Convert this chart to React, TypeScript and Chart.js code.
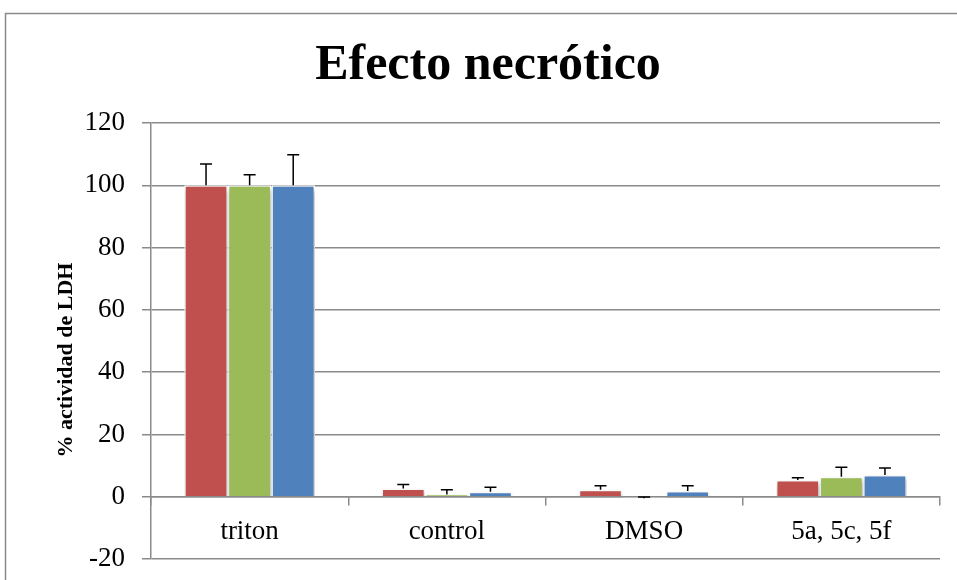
import React, { useEffect, useRef } from "react";
import { Chart, registerables } from "chart.js";

Chart.register(...registerables);

const titleText = "Efecto necrótico";
const yTitleText = "% actividad de LDH";
const categories = ["triton", "control", "DMSO", "5a, 5c, 5f"];
const seriesA = [100, 2.6, 2.2, 5.4];
const seriesB = [100, 0.7, -0.5, 6.4];
const seriesC = [100, 1.6, 1.8, 7.0];
const errA = [6.8, 1.3, 1.3, 0.7];
const errB = [3.4, 1.5, 0.4, 3.1];
const errC = [9.8, 1.4, 1.7, 2.2];
const yTicks = [-20, 0, 20, 40, 60, 80, 100, 120];

const colors = ["#C0504D", "#9BBB59", "#4F81BD"];
const errs = [errA, errB, errC];

const frame = {
  id: "frame",
  beforeDraw(chart: any) {
    const ctx = chart.ctx;
    ctx.save();
    ctx.fillStyle = "#ffffff";
    ctx.fillRect(0, 0, chart.width, chart.height);
    ctx.strokeStyle = "#8a8a8a";
    ctx.lineWidth = 1.5;
    ctx.beginPath();
    ctx.moveTo(5.5, chart.height + 5);
    ctx.lineTo(5.5, 13.5);
    ctx.lineTo(chart.width + 5, 13.5);
    ctx.stroke();
    ctx.restore();
  },
  afterDraw(chart: any) {
    const ctx = chart.ctx;
    ctx.save();
    ctx.fillStyle = "#000000";
    ctx.font = "bold 50px 'Liberation Serif'";
    ctx.textAlign = "center";
    ctx.textBaseline = "alphabetic";
    ctx.fillText(titleText, 488, 79);
    ctx.translate(72, 360);
    ctx.rotate(-Math.PI / 2);
    ctx.font = "bold 22px 'Liberation Serif'";
    ctx.fillText(yTitleText, 0, 0);
    ctx.restore();
  },
};

const shadow = {
  id: "shadow",
  beforeDatasetsDraw(chart: any) {
    const ctx = chart.ctx;
    ctx.save();
    ctx.shadowColor = "rgba(0,0,0,0.35)";
    ctx.shadowBlur = 5;
    ctx.shadowOffsetX = 1;
    ctx.shadowOffsetY = 3;
  },
  afterDatasetsDraw(chart: any) {
    chart.ctx.restore();
  },
};

const errorBars = {
  id: "errorBars",
  afterDatasetsDraw(chart: any) {
    const ctx = chart.ctx;
    const y = chart.scales.y;
    ctx.save();
    ctx.strokeStyle = "#000000";
    ctx.lineWidth = 1.5;
    chart.data.datasets.forEach((ds: any, di: number) => {
      const meta = chart.getDatasetMeta(di);
      meta.data.forEach((bar: any, i: number) => {
        const v = ds.data[i];
        const e = errs[di][i];
        const x = bar.x;
        const y0 = y.getPixelForValue(v);
        const y1 = y.getPixelForValue(v + e);
        ctx.beginPath();
        ctx.moveTo(x, y0);
        ctx.lineTo(x, y1);
        ctx.moveTo(x - 6, y1);
        ctx.lineTo(x + 6, y1);
        ctx.stroke();
      });
    });
    ctx.restore();
  },
};

export default function App() {
  const ref = useRef<HTMLCanvasElement>(null);
  useEffect(() => {
    if (!ref.current) return;
    const mk = (data: number[], c: string) => ({
      data,
      backgroundColor: data.map((v) => (v < 0 ? "#ffffff" : c)),
      borderColor: "#ffffff",
      borderWidth: 1.5,
      categoryPercentage: 0.663,
      barPercentage: 1.0,
    });
    const chart = new Chart(ref.current, {
      type: "bar",
      data: {
        labels: categories,
        datasets: [mk(seriesA, colors[0]), mk(seriesB, colors[1]), mk(seriesC, colors[2])],
      },
      options: {
        animation: false,
        responsive: false,
        layout: { padding: { left: 0, right: 17, top: 123, bottom: 21 } },
        plugins: {
          legend: { display: false },
          tooltip: { enabled: false },
          title: { display: false },
        },
        scales: {
          x: {
            position: { y: 0 } as any,
            afterFit: (s: any) => {
              s.height = 0;
              s.paddingLeft = 0;
              s.paddingRight = 0;
            },
            grid: {
              display: true,
              drawOnChartArea: false,
              drawTicks: true,
              tickLength: 8,
              offset: true,
              color: "#8a8a8a",
              lineWidth: 1.5,
            },
            border: { display: true, color: "#8a8a8a", width: 1.5 },
            ticks: {
              color: "#000000",
              font: { family: "Liberation Serif", size: 27 },
              padding: 11,
            },
          },
          y: {
            min: -20,
            max: 120,
            afterFit: (s: any) => {
              s.width = 151;
              s.paddingTop = 0;
              s.paddingBottom = 0;
            },
            afterBuildTicks: (s: any) => {
              s.ticks = yTicks.map((v) => ({ value: v }));
            },
            grid: {
              color: "#8a8a8a",
              lineWidth: 1.5,
              tickLength: 9,
            },
            border: { display: true, color: "#8a8a8a", width: 1.5 },
            ticks: {
              color: "#000000",
              font: { family: "Liberation Serif", size: 27 },
              padding: 17,
            },
          },
        },
      },
      plugins: [frame, shadow, errorBars],
    });
    return () => chart.destroy();
  }, []);
  return (
    <div style={{ position: "fixed", left: 0, top: 0, width: 957, height: 580 }}>
      <canvas ref={ref} width={957} height={580} style={{ display: "block" }} />
    </div>
  );
}
